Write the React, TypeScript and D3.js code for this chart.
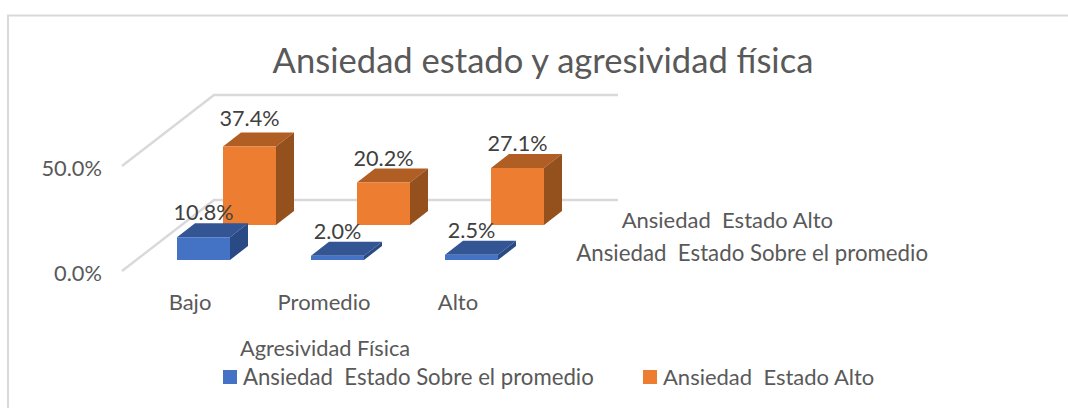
import React from "react";
import * as d3 from "d3";

const categories = ["Bajo", "Promedio", "Alto"];
const seriesNames = ["Ansiedad  Estado Sobre el promedio", "Ansiedad  Estado Alto"];
const sobrePromedio = [10.8, 2.0, 2.5];
const alto = [37.4, 20.2, 27.1];
const yTicks = [0, 50];
const title = "Ansiedad estado y agresividad física";
const axisTitle = "Agresividad Física";

const seriesValues = [sobrePromedio, alto];
const faces = [
  { front: "#4472c4", top: "#335593", side: "#2a4a85" },
  { front: "#ed7d31", top: "#b15e24", side: "#94501d" },
];

const W = 1068, H = 408;
const FONT = "Lato, 'Open Sans', sans-serif";
const barW = 53, depthX = 18, depthY = 14;

const xBand = d3.scaleLinear().domain([0, 2]).range([177, 445]);
const yFront = d3.scaleLinear().domain([0, 50]).range([260, 155]);
const serX = d3.scaleLinear().domain([0, 1]).range([0, 46]);
const serY = d3.scaleLinear().domain([0, 1]).range([0, -35]);

export default function App() {
  const poly = d3.line();
  return (
    <svg width={W} height={H} viewBox={`0 0 ${W} ${H}`} style={{ position: "absolute", left: 0, top: 0, background: "#fff" }} fontFamily={FONT}>
      <path d={`M1068 15.5H8V408`} fill="none" stroke="#d9d9d9" strokeWidth={2} />
      <text x={543} y={73} textAnchor="middle" fontSize={34.6} fill="#595959">{title}</text>

      {yTicks.map((t) => {
        const y = yFront(t) + 11;
        return (
          <g key={t}>
            <path d={`M122 ${y}L214 ${y - 71}H618`} fill="none" stroke="#d9d9d9" strokeWidth={2.4} />
            <text x={102} y={y + 10} textAnchor="end" fontSize={21.8} fill="#595959">{t.toFixed(1)}%</text>
          </g>
        );
      })}

      {[1, 0].map((s) =>
        categories.map((c, i) => {
          const v = seriesValues[s][i];
          const x0 = xBand(i) + serX(s);
          const x1 = x0 + barW;
          const yb = yFront(0) + serY(s);
          const yt = yFront(v) + serY(s);
          const f = faces[s];
          const front: [number, number][] = [[x0, yb], [x1, yb], [x1, yt], [x0, yt]];
          const top: [number, number][] = [[x0, yt], [x1, yt], [x1 + depthX, yt - depthY], [x0 + depthX, yt - depthY]];
          const side: [number, number][] = [[x1, yb], [x1 + depthX, yb - depthY], [x1 + depthX, yt - depthY], [x1, yt]];
          return (
            <g key={`${s}-${c}`}>
              <path d={poly(top) + "Z"} fill={f.top} />
              <path d={poly(side) + "Z"} fill={f.side} />
              <path d={poly(front) + "Z"} fill={f.front} />
            </g>
          );
        })
      )}

      {[1, 0].map((s) =>
        categories.map((c, i) => {
          const v = seriesValues[s][i];
          const gap = v > 30 ? 20 : 17;
          return (
            <text key={`l${s}-${c}`} x={xBand(i) + serX(s) + barW / 2} y={yFront(v) + serY(s) - gap} textAnchor="middle" fontSize={21.6} fill="#404040">
              {v.toFixed(1)}%
            </text>
          );
        })
      )}

      {categories.map((c, i) => (
        <text key={c} x={xBand(i) + barW / 2 - 13.5} y={310} textAnchor="middle" fontSize={22} fill="#595959">{c}</text>
      ))}

      <text x={928} y={261} textAnchor="end" fontSize={22.25} fill="#595959" xmlSpace="preserve">{seriesNames[0]}</text>
      <text x={833} y={228} textAnchor="end" fontSize={22} fill="#595959" xmlSpace="preserve">{seriesNames[1]}</text>

      <text x={240} y={356} fontSize={21.8} fill="#595959">{axisTitle}</text>

      {seriesNames.map((n, s) => {
        const lx = s === 0 ? 223 : 643;
        return (
          <g key={n}>
            <rect x={lx} y={370} width={14} height={14} fill={faces[s].front} />
            <text x={lx + 20} y={385} fontSize={s === 0 ? 22.2 : 22} fill="#595959" xmlSpace="preserve">{n}</text>
          </g>
        );
      })}
    </svg>
  );
}
